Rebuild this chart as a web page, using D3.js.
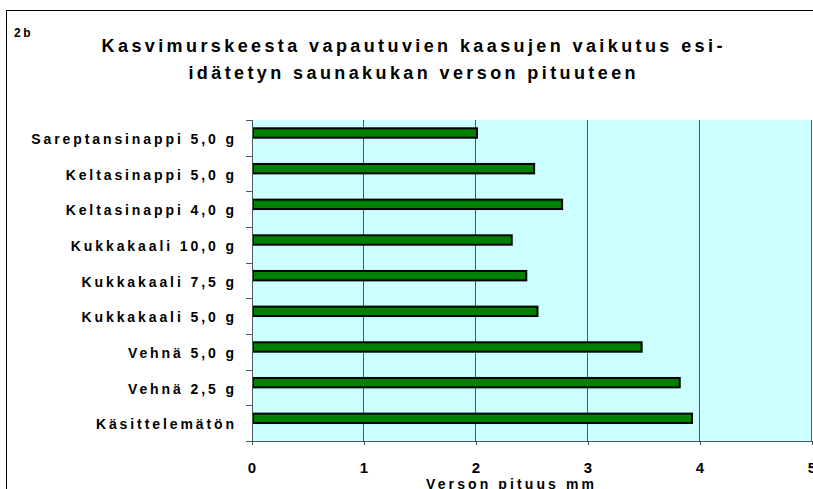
<!DOCTYPE html>
<html>
<head>
<meta charset="utf-8">
<script src="https://cdn.jsdelivr.net/npm/d3@7/dist/d3.min.js"></script>
<style>
  html, body { margin: 0; padding: 0; background: #fff; }
  svg { display: block; }
  text { font-family: "Liberation Sans", Arial, sans-serif; font-weight: bold; fill: #000; }
</style>
</head>
<body>
<script>
const categories = [
  "Sareptansinappi 5,0 g",
  "Keltasinappi 5,0 g",
  "Keltasinappi 4,0 g",
  "Kukkakaali 10,0 g",
  "Kukkakaali 7,5 g",
  "Kukkakaali 5,0 g",
  "Vehnä 5,0 g",
  "Vehnä 2,5 g",
  "Käsittelemätön"
];
const values = [2.00, 2.51, 2.76, 2.31, 2.44, 2.54, 3.47, 3.81, 3.92];
const xTicks = [0, 1, 2, 3, 4, 5];
const titleLines = [
  "Kasvimurskeesta vapautuvien kaasujen vaikutus esi-",
  "idätetyn saunakukan verson pituuteen"
];
const panelLabel = "2b";
const xAxisTitle = "Verson pituus mm";

const W = 813, H = 489;
const plot = { left: 252, right: 812, top: 120, bottom: 441 };

const svg = d3.select("body").append("svg").attr("width", W).attr("height", H);

// outer chart border
svg.append("rect")
  .attr("x", 6.5).attr("y", 10.5)
  .attr("width", W + 20).attr("height", H + 20)
  .attr("fill", "#fff").attr("stroke", "#000").attr("stroke-width", 1);

const x = d3.scaleLinear().domain([0, 5]).range([plot.left, plot.right]);
const y = d3.scaleBand().domain(categories).range([plot.top, plot.bottom]).paddingInner(0).paddingOuter(0);

// plot background
svg.append("rect")
  .attr("x", plot.left).attr("y", plot.top)
  .attr("width", plot.right - plot.left).attr("height", plot.bottom - plot.top)
  .attr("fill", "#CCFFFF");

// gridlines
svg.append("g").selectAll("line")
  .data(xTicks.slice(1))
  .join("line")
  .attr("x1", d => Math.round(x(d)) - 0.5).attr("x2", d => Math.round(x(d)) - 0.5)
  .attr("y1", plot.top).attr("y2", plot.bottom)
  .attr("stroke", "#4a5a5a").attr("stroke-width", 1);

// bars
const bandStep = y.step();
svg.append("g").selectAll("rect")
  .data(categories)
  .join("rect")
  .attr("x", x(0) + 1)
  .attr("y", d => y(d) + 8.3)
  .attr("width", (d, i) => x(values[i]) - x(0))
  .attr("height", 9.4)
  .attr("fill", "#008000")
  .attr("stroke", "#000")
  .attr("stroke-width", 2);

// y axis
const yAxis = svg.append("g");
yAxis.append("line")
  .attr("x1", plot.left + 0.5).attr("x2", plot.left + 0.5)
  .attr("y1", plot.top).attr("y2", plot.bottom + 3)
  .attr("stroke", "#4a5a5a");
const bounds = categories.map(c => y(c)).concat([plot.bottom]);
yAxis.selectAll("line.tick")
  .data(bounds)
  .join("line").attr("class", "tick")
  .attr("x1", plot.left - 6).attr("x2", plot.left)
  .attr("y1", d => Math.round(d) + 0.5).attr("y2", d => Math.round(d) + 0.5)
  .attr("stroke", "#4a5a5a");

const labelSpacing = 2.9;
yAxis.selectAll("text")
  .data(categories)
  .join("text")
  .attr("x", 234 + labelSpacing)
  .attr("y", d => y(d) + bandStep / 2 + 6)
  .attr("text-anchor", "end")
  .style("font-size", "14px")
  .style("letter-spacing", labelSpacing + "px")
  .text(d => d);

// x axis
const xAxis = svg.append("g");
xAxis.append("line")
  .attr("x1", plot.left).attr("x2", plot.right)
  .attr("y1", plot.bottom + 0.5).attr("y2", plot.bottom + 0.5)
  .attr("stroke", "#4a5a5a");
xAxis.selectAll("line.tick")
  .data(xTicks)
  .join("line").attr("class", "tick")
  .attr("x1", d => Math.round(x(d)) + 0.5).attr("x2", d => Math.round(x(d)) + 0.5)
  .attr("y1", plot.bottom).attr("y2", plot.bottom + 4)
  .attr("stroke", "#4a5a5a");
xAxis.selectAll("text")
  .data(xTicks)
  .join("text")
  .attr("x", d => x(d))
  .attr("y", 473)
  .attr("text-anchor", "middle")
  .style("font-size", "15px")
  .text(d => d);

const axSp = 3.1;
svg.append("text")
  .attr("x", 510 + axSp / 2)
  .attr("y", 489)
  .attr("text-anchor", "middle")
  .style("font-size", "14px")
  .style("letter-spacing", axSp + "px")
  .text(xAxisTitle);

// title
const tSp = 3.4;
svg.append("g").selectAll("text")
  .data(titleLines)
  .join("text")
  .attr("x", 412 + tSp / 2)
  .attr("y", (d, i) => 52 + i * 27)
  .attr("text-anchor", "middle")
  .style("font-size", "18px")
  .style("letter-spacing", tSp + "px")
  .text(d => d);

svg.append("text")
  .attr("x", 14)
  .attr("y", 37)
  .style("font-size", "12px")
  .style("letter-spacing", "2.5px")
  .text(panelLabel);
</script>
</body>
</html>
